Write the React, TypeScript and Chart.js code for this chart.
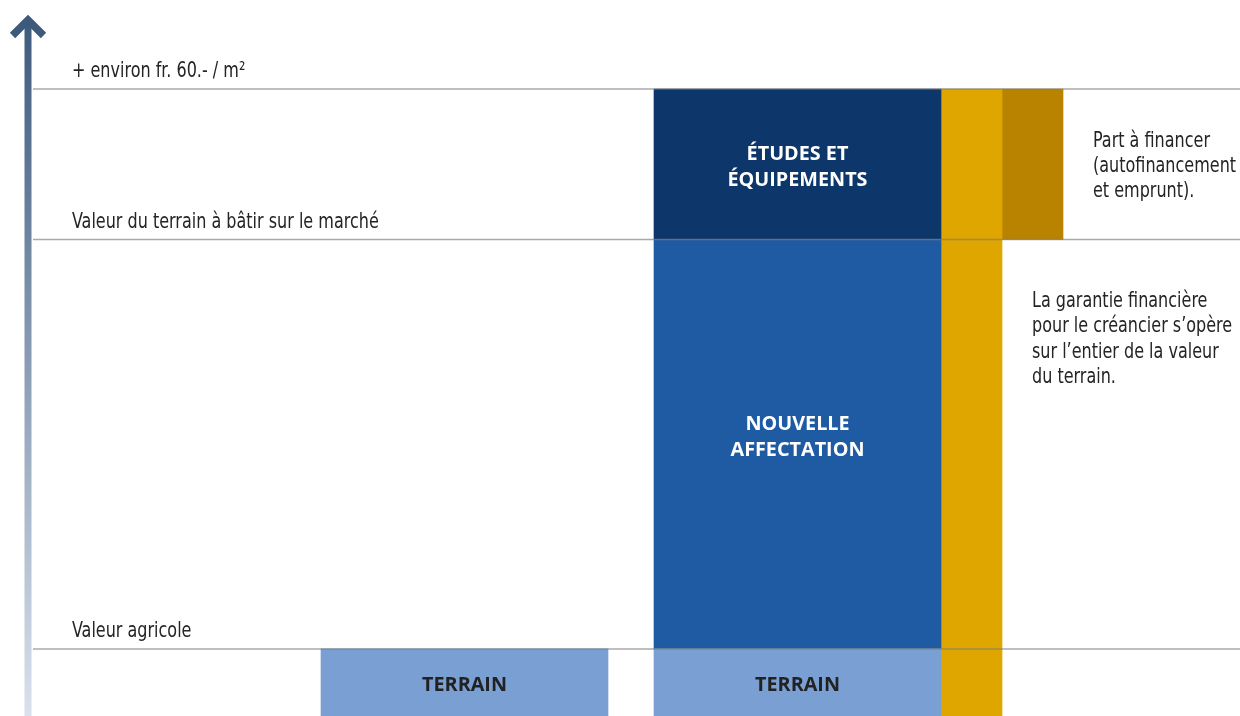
import { useEffect, useRef } from "react";
import { Chart, registerables } from "chart.js";

Chart.register(...registerables);

// ---- Data ----
// Value levels on the vertical axis (relative index, top level = 100)
const levelNames = [
  "Valeur agricole",
  "Valeur du terrain à bâtir sur le marché",
  "+ environ fr. 60.- / m²",
];
const levelValues = [10.7, 76, 100];

// Columns of the diagram
const columnNames = ["avant", "apres", "garantie", "part"];

// Segments (floating bars)
const segmentNames = [
  "TERRAIN",
  "TERRAIN",
  "NOUVELLE\nAFFECTATION",
  "ÉTUDES ET\nÉQUIPEMENTS",
  "",
  "",
];
const segmentColumn = ["avant", "apres", "apres", "apres", "garantie", "part"];
const segmentStart = [0, 0, 10.7, 76, 0, 76];
const segmentEnd = [10.7, 10.7, 76, 100, 100, 100];

// Side notes
const notePart = ["Part à financer", "(autofinancement", "et emprunt)."];
const noteGarantie = [
  "La garantie financière",
  "pour le créancier s’opère",
  "sur l’entier de la valeur",
  "du terrain.",
];

// ---- Layout / style (not data) ----
const W = 1240;
const H = 716;
const Y_MAX = 114.2;
const columnCenter: Record<string, number> = { avant: 464.5, apres: 797.5, garantie: 971.5, part: 1032.5 };
const columnWidth: Record<string, number> = { avant: 287, apres: 287, garantie: 61, part: 61 };
const segmentColor = ["#7aa0d3", "#7aa0d3", "#1f5ba3", "#0d366b", "#e0a600", "#b98300"];
const segmentTextColor = ["#222222", "#222222", "#ffffff", "#ffffff", "#ffffff", "#ffffff"];
const segmentLabelDy = [1.5, 1.5, -8, 1.5, 0, 0];

const FONT_REG = '"DejaVu Sans Condensed", "Roboto", sans-serif';
const FONT_BOLD = '"Open Sans", "Noto Sans", sans-serif';
const TEXT_DARK = "#242424";
const REG_SIZE = 21;
const REG_SX = 0.848; // horizontal condensing of the regular text

function fillCondensed(ctx: CanvasRenderingContext2D, text: string, x: number, y: number) {
  ctx.save();
  ctx.translate(x, y);
  ctx.scale(REG_SX, 1);
  ctx.fillText(text, 0, 0);
  ctx.restore();
}

const drawPlugin = {
  id: "diagramDecor",
  afterDatasetsDraw(chart: any) {
    const ctx = chart.ctx as CanvasRenderingContext2D;
    const y = chart.scales.y;
    ctx.save();

    // level lines (drawn over the bars)
    ctx.strokeStyle = "rgba(125,125,125,0.65)";
    ctx.lineWidth = 1.5;
    levelValues.forEach((v) => {
      const py = y.getPixelForValue(v);
      ctx.beginPath();
      ctx.moveTo(33, py);
      ctx.lineTo(W, py);
      ctx.stroke();
    });

    // level labels
    ctx.fillStyle = TEXT_DARK;
    ctx.font = `${REG_SIZE}px ${FONT_REG}`;
    ctx.textAlign = "left";
    ctx.textBaseline = "alphabetic";
    levelNames.forEach((name, i) => {
      const py = y.getPixelForValue(levelValues[i]);
      fillCondensed(ctx, name, 72, py - 12);
    });

    // bar labels
    ctx.font = `bold 19.8px ${FONT_BOLD}`;
    ctx.textAlign = "center";
    segmentNames.forEach((name, i) => {
      if (!name) return;
      const el = chart.getDatasetMeta(i).data[0];
      if (!el) return;
      const lines = name.split("\n");
      const mid = (el.y + el.base) / 2 + segmentLabelDy[i];
      const lh = 25.5;
      ctx.fillStyle = segmentTextColor[i];
      lines.forEach((ln, k) => {
        const cy = mid + (k - (lines.length - 1) / 2) * lh;
        ctx.fillText(ln, el.x, cy + 7);
      });
    });

    // side notes
    ctx.fillStyle = TEXT_DARK;
    ctx.font = `${REG_SIZE}px ${FONT_REG}`;
    ctx.textAlign = "left";
    const partEl = chart.getDatasetMeta(5).data[0];
    if (partEl) {
      const mid = (partEl.y + partEl.base) / 2;
      const x = partEl.x + partEl.width / 2 + 30;
      notePart.forEach((ln, k) => {
        const cy = mid + (k - (notePart.length - 1) / 2) * 25;
        fillCondensed(ctx, ln, x, cy + 8);
      });
    }
    const garEl = chart.getDatasetMeta(4).data[0];
    if (garEl) {
      const top = y.getPixelForValue(levelValues[1]) + 59;
      const x = garEl.x + garEl.width / 2 + 30;
      noteGarantie.forEach((ln, k) => {
        fillCondensed(ctx, ln, x, top + k * 25.6 + 8);
      });
    }
    ctx.restore();
  },
  afterDraw(chart: any) {
    // vertical arrow
    const ctx = chart.ctx as CanvasRenderingContext2D;
    ctx.save();
    const grad = ctx.createLinearGradient(0, H, 0, 20);
    grad.addColorStop(0, "#d9e1ec");
    grad.addColorStop(1, "#3d5a7d");
    ctx.fillStyle = grad;
    ctx.fillRect(24.5, 22, 7, H - 22);
    ctx.strokeStyle = "#3d5a7d";
    ctx.lineWidth = 7.5;
    ctx.lineJoin = "miter";
    ctx.lineCap = "butt";
    ctx.beginPath();
    ctx.moveTo(12.5, 35.5);
    ctx.lineTo(28, 20);
    ctx.lineTo(43.5, 35.5);
    ctx.stroke();
    ctx.restore();
  },
};

export default function App() {
  const ref = useRef<HTMLCanvasElement>(null);
  useEffect(() => {
    const canvas = ref.current;
    if (!canvas) return;
    const datasets = segmentNames.map((name, i) => ({
      label: name || `segment ${i}`,
      data: [{ x: columnCenter[segmentColumn[i]], y: [segmentStart[i], segmentEnd[i]] }],
      backgroundColor: segmentColor[i],
      borderWidth: 0,
      borderSkipped: false,
      barThickness: columnWidth[segmentColumn[i]],
      grouped: false,
    }));
    const chart = new Chart(canvas, {
      type: "bar",
      data: { datasets: datasets as any },
      options: {
        animation: false,
        responsive: false,
        devicePixelRatio: 1,
        layout: { padding: 0 },
        plugins: { legend: { display: false }, tooltip: { enabled: false } },
        scales: {
          x: { type: "linear", min: 0, max: W, offset: false, display: false },
          y: { type: "linear", min: 0, max: Y_MAX, stacked: false, display: false },
        },
      },
      plugins: [drawPlugin],
    });
    void columnNames;
    return () => chart.destroy();
  }, []);
  return (
    <div style={{ position: "absolute", left: 0, top: 0, width: W, height: H, background: "#fff" }}>
      <canvas ref={ref} width={W} height={H} style={{ display: "block", width: W, height: H }} />
    </div>
  );
}
